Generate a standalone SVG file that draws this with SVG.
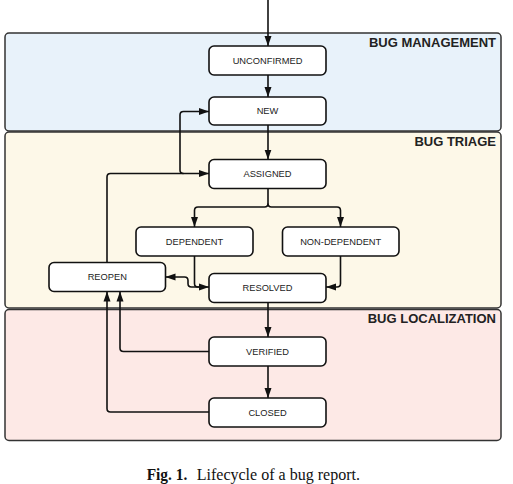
<svg xmlns="http://www.w3.org/2000/svg" width="513" height="484" viewBox="0 0 513 484">
<style>
.lane{stroke:#333;stroke-width:1.5}
.node{fill:#fff;stroke:#111;stroke-width:1.6}
.lbl{font-family:"Liberation Sans",Arial,sans-serif;font-size:9.3px;fill:#222;text-anchor:middle}
.title{font-family:"Liberation Sans",Arial,sans-serif;font-size:13px;font-weight:bold;fill:#222;text-anchor:end}
.edge{fill:none;stroke:#111;stroke-width:1.6}
.cap{font-family:"Liberation Serif","Times New Roman",serif;font-size:17px;fill:#111}
</style>
<defs>
<marker id="arr" markerUnits="userSpaceOnUse" markerWidth="10" markerHeight="8" refX="10" refY="3.5" orient="auto" viewBox="0 0 10 7">
<path d="M0,0 L10,3.5 L0,7 z" fill="#111"/>
</marker>
</defs>
<g id="lanes">
<rect class="lane" x="5" y="33" width="496" height="98" rx="4" fill="#e8f2fa"/>
<text class="title" x="496" y="47.3">BUG MANAGEMENT</text>
<rect class="lane" x="5" y="132" width="496" height="176" rx="4" fill="#fdf8e8"/>
<text class="title" x="496" y="146">BUG TRIAGE</text>
<rect class="lane" x="5" y="309.5" width="496" height="131" rx="4" fill="#fde9e6"/>
<text class="title" x="496" y="323">BUG LOCALIZATION</text>
</g>
<g id="connectors">
<path class="edge" d="M268,0 V46" marker-end="url(#arr)"/>
<path class="edge" d="M268,75 V97" marker-end="url(#arr)"/>
<path class="edge" d="M268,125 V159.5" marker-end="url(#arr)"/>
<path class="edge" d="M107,262.5 V177 Q107,173.5 110.5,173.5 H209" marker-end="url(#arr)"/>
<path class="edge" d="M183.5,173.5 Q180,173.5 180,170 V115 Q180,111.5 183.5,111.5 H209" marker-end="url(#arr)"/>
<path class="edge" d="M268,188.5 V203.5 Q268,207 264.5,207 H198 Q194.5,207 194.5,210.5 V227" marker-end="url(#arr)"/>
<path class="edge" d="M268,203.5 Q268,207 271.5,207 H337 Q340.5,207 340.5,210.5 V227" marker-end="url(#arr)"/>
<path class="edge" d="M194.5,256 V283.5 Q194.5,287 198,287 H209" marker-end="url(#arr)"/>
<path class="edge" d="M200,287 H191.5 Q188,287 188,283.5 V280.5 Q188,277 184.5,277 H165.5" marker-end="url(#arr)"/>
<path class="edge" d="M340.5,256 V283.5 Q340.5,287 337,287 H326" marker-end="url(#arr)"/>
<path class="edge" d="M268,302.5 V337" marker-end="url(#arr)"/>
<path class="edge" d="M268,366 V398" marker-end="url(#arr)"/>
<path class="edge" d="M209,351.5 H123.5 Q120,351.5 120,348 V291.5" marker-end="url(#arr)"/>
<path class="edge" d="M209,412 H110.5 Q107,412 107,408.5 V291.5" marker-end="url(#arr)"/>
</g>
<g id="n-unconfirmed"><rect class="node" x="209" y="46" width="117" height="29" rx="5"/><text class="lbl" x="267.5" y="63.6">UNCONFIRMED</text></g>
<g id="n-new"><rect class="node" x="209" y="97" width="117" height="28" rx="5"/><text class="lbl" x="267.5" y="114.1">NEW</text></g>
<g id="n-assigned"><rect class="node" x="209" y="159.5" width="117" height="29" rx="5"/><text class="lbl" x="267.5" y="177.1">ASSIGNED</text></g>
<g id="n-dependent"><rect class="node" x="136" y="227" width="117" height="29" rx="5"/><text class="lbl" x="194.5" y="244.6">DEPENDENT</text></g>
<g id="n-nondependent"><rect class="node" x="282.5" y="227" width="116.5" height="29" rx="5"/><text class="lbl" x="340.7" y="244.6">NON-DEPENDENT</text></g>
<g id="n-reopen"><rect class="node" x="49" y="262.5" width="116.5" height="29" rx="5"/><text class="lbl" x="107.3" y="280.1">REOPEN</text></g>
<g id="n-resolved"><rect class="node" x="209" y="273.5" width="117" height="29" rx="5"/><text class="lbl" x="267.5" y="291.1">RESOLVED</text></g>
<g id="n-verified"><rect class="node" x="209" y="337" width="117" height="29" rx="5"/><text class="lbl" x="267.5" y="354.6">VERIFIED</text></g>
<g id="n-closed"><rect class="node" x="209" y="398" width="117" height="29" rx="5"/><text class="lbl" x="267.5" y="415.6">CLOSED</text></g>
<g id="caption">
<text class="cap" x="146.7" y="479.5" font-weight="bold" textLength="40.6" lengthAdjust="spacingAndGlyphs">Fig. 1.</text>
<text class="cap" x="196.7" y="479.5" textLength="163.3" lengthAdjust="spacingAndGlyphs">Lifecycle of a bug report.</text>
</g>
</svg>
